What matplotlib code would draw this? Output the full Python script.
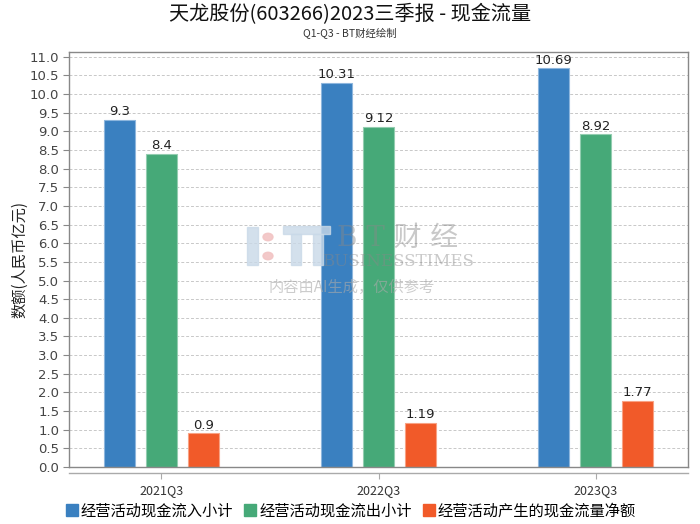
import matplotlib
matplotlib.use("Agg")
import matplotlib.pyplot as plt
import numpy as np
from matplotlib.patches import Rectangle, Circle
from matplotlib.lines import Line2D

plt.rcParams['font.family'] = ['Noto Sans CJK SC', 'DejaVu Sans']

categories = ["2021Q3", "2022Q3", "2023Q3"]
series_names = ["经营活动现金流入小计", "经营活动现金流出小计", "经营活动产生的现金流量净额"]
inflow = [9.3, 10.31, 10.69]
outflow = [8.4, 9.12, 8.92]
net = [0.9, 1.19, 1.77]
value_labels = [["9.3", "10.31", "10.69"], ["8.4", "9.12", "8.92"], ["0.9", "1.19", "1.77"]]
colors = ["#3A80C0", "#46A978", "#F15A29"]
edge_colors = ["#8DB6DD", "#93CDB0", "#F8A284"]

fig = plt.figure(figsize=(7.0, 5.24), dpi=100)
ax = fig.add_axes([69/700, 1-467/524, (688-69)/700, (467-52)/524])

x = np.arange(len(categories))
width = 0.143
offset = 0.1935
for i, (vals, c, ec) in enumerate(zip([inflow, outflow, net], colors, edge_colors)):
    pos = x + (i - 1) * offset
    ax.bar(pos, vals, width=width, color=c, edgecolor=ec, linewidth=0.8,
           label=series_names[i], zorder=3)
    for px, v, lab in zip(pos, vals, value_labels[i]):
        ax.text(px, v + 0.05, lab, ha='center', va='bottom', fontsize=9.5,
                family='DejaVu Sans', color='#222222', zorder=4)

ax.set_xlim(-0.426, 2.425)
ax.set_ylim(0, 11.13)
ax.set_yticks(np.arange(0, 11.01, 0.5))
ax.set_yticklabels([f"{v:.1f}" for v in np.arange(0, 11.01, 0.5)], family='DejaVu Sans')
ax.set_xticks(x)
ax.set_xticklabels(categories, family='DejaVu Sans')
ax.grid(axis='y', linestyle=(0, (3, 2)), color='#C8C8C8', linewidth=0.7, zorder=0)
ax.tick_params(axis='y', length=4, color='#888888', labelsize=9.5, labelcolor='#444444', pad=3)
ax.tick_params(axis='x', length=4, color='#AAAAAA', labelsize=9, labelcolor='#333333', pad=4, direction='out')

for s in ['top', 'left', 'right']:
    ax.spines[s].set_color('#888888')
    ax.spines[s].set_linewidth(1.0)
ax.spines['bottom'].set_position(('outward', 4))
ax.spines['bottom'].set_color('#AAAAAA')
ax.spines['bottom'].set_linewidth(1.0)
ax.plot([0, 1], [0, 0], transform=ax.transAxes, color='#888888', linewidth=1.0,
        clip_on=False, zorder=5)

ax.set_ylabel("数额(人民币亿元)", fontsize=11, color='#222222')
ax.yaxis.set_label_coords(-(69 - 28) / 619, 0.5)

# watermark
wm = '#C9D9E8'
fig.patches.append(Rectangle((247/700, 1-265/524), 11/700, 38/524, transform=fig.transFigure,
                             color=wm, alpha=0.8, zorder=10))
fig.patches.append(Rectangle((283/700, 1-234/524), 47/700, 8/524, transform=fig.transFigure,
                             color=wm, alpha=0.8, zorder=10))
fig.patches.append(Rectangle((291/700, 1-265/524), 10/700, 31/524, transform=fig.transFigure,
                             color=wm, alpha=0.8, zorder=10))
fig.patches.append(Rectangle((313/700, 1-265/524), 10/700, 31/524, transform=fig.transFigure,
                             color=wm, alpha=0.8, zorder=10))
for cy in [237, 256]:
    fig.patches.append(Circle((268/700, 1-cy/524), 5/700, transform=fig.transFigure,
                              color='#F2C4C4', alpha=0.9, zorder=10))
fig.text(398/700, 1-238/524, "B T 财 经", ha='center', va='center', fontsize=20,
         family=['DejaVu Serif', 'Noto Sans CJK SC'], color='#888888', alpha=0.45, zorder=10)
fig.text(398/700, 1-262/524, "BUSINESSTIMES", ha='center', va='center', fontsize=12,
         family=['DejaVu Serif'], color='#888888', alpha=0.45, zorder=10)
fig.text(352/700, 1-287/524, "内容由AI生成，仅供参考", ha='center', va='center', fontsize=11,
         color='#AAAAAA', alpha=0.6, zorder=10)

fig.text(0.5, 1-15/524, "天龙股份(603266)2023三季报 - 现金流量", ha='center', va='center',
         fontsize=14.5, color='#111111')
fig.text(0.5, 1-34/524, "Q1-Q3 - BT财经绘制", ha='center', va='center', fontsize=7.5,
         color='#333333')

hs = [Line2D([], [], marker='s', linestyle='none', markersize=8, color=c) for c in colors]
fig.legend(hs, series_names, loc='center', bbox_to_anchor=(0.5, 1-511/524), ncol=3,
           frameon=False, fontsize=11, handletextpad=0.1, columnspacing=0.6,
           handlelength=1.0)

fig.savefig("out.png", dpi=100)
